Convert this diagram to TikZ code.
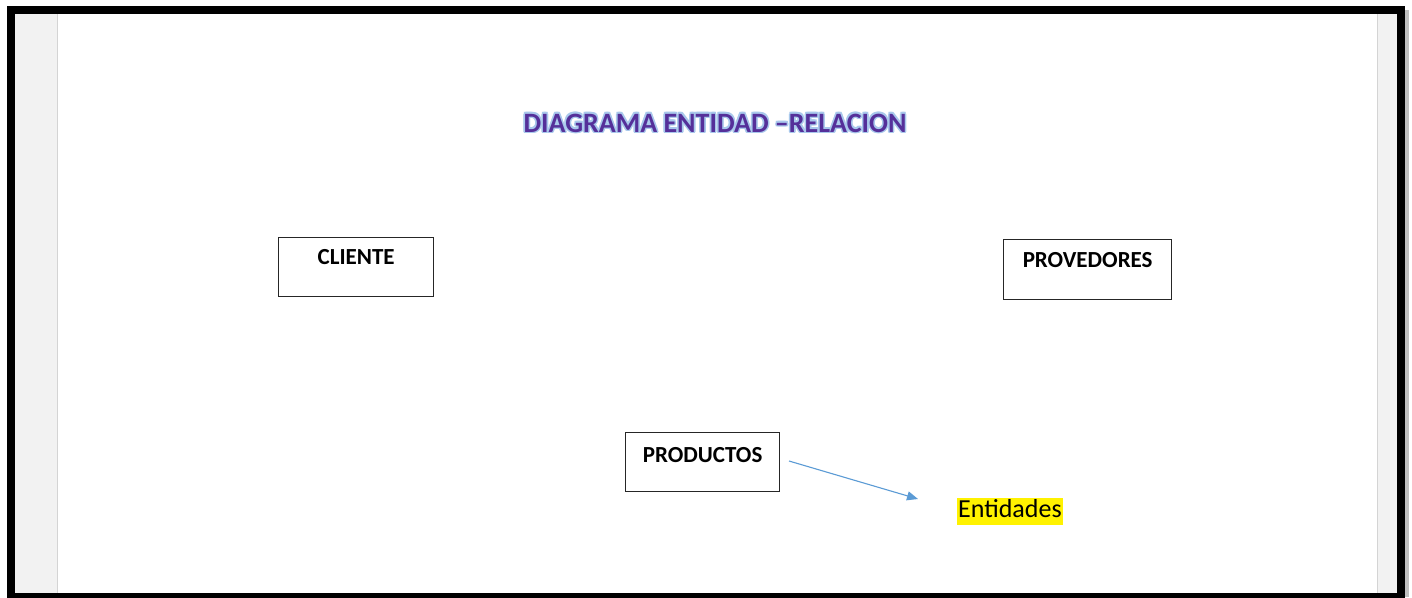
\documentclass[tikz,border=0pt]{standalone}
\usepackage{fontspec}
\setmainfont{Carlito}
\usetikzlibrary{arrows.meta}
\definecolor{titlecol}{HTML}{55309A}
\definecolor{glowcol}{HTML}{A9C8EC}
\definecolor{arrowcol}{HTML}{5B9BD5}
\definecolor{panelgray}{HTML}{F2F2F2}
\definecolor{panelline}{HTML}{D4D4D4}
\tikzset{
  entity/.style={draw=black!85, line width=1.3pt, inner xsep=0pt, inner ysep=0pt,
    anchor=north west, align=center, font=\fontsize{23}{26}\selectfont\bfseries},
  titletext/.style={font=\fontsize{28}{32}\selectfont\bfseries, inner sep=0pt, anchor=base},
  conn/.style={draw=arrowcol, line width=1.1pt, -{Triangle[length=11pt,width=9pt]}},
}
\begin{document}
\begin{tikzpicture}[x=1pt,y=-1pt]
\useasboundingbox (0,0) rectangle (1412,597);
% page background and frame
\fill[white] (0,0) rectangle (1412,597);
\fill[panelgray] (15,14) rectangle (57,594);
\fill[panelgray] (1378,14) rectangle (1397,594);
\draw[panelline, line width=1.5pt] (57.5,14) -- (57.5,594);
\draw[panelline, line width=1.5pt] (1377.5,14) -- (1377.5,594);
\fill[black!25] (1405,10) rectangle (1409,597);
\draw[black, line width=8pt] (11,10) rectangle (1401,597);
% title with glow
\foreach \dx/\dy in {-1.6/0,1.6/0,0/-1.6,0/1.6,-1.1/-1.1,1.1/1.1,-1.1/1.1,1.1/-1.1}{
  \node[titletext, text=glowcol] at (715+\dx,132+\dy) {DIAGRAMA ENTIDAD --RELACION};
}
\node[titletext, text=titlecol] (title) at (715,132) {DIAGRAMA ENTIDAD --RELACION};
% entities
\node[entity, minimum width=155pt, text height=27pt, text depth=32pt] (cliente) at (278,237) {CLIENTE};
\node[entity, minimum width=168pt, text height=28pt, text depth=32pt] (provedores) at (1003,239) {PROVEDORES};
\node[entity, minimum width=154pt, text height=30pt, text depth=29pt] (productos) at (625,432) {PRODUCTOS};
% label
\node[fill=yellow, inner xsep=1pt, inner ysep=0pt, text height=19pt, text depth=8pt,
  font=\fontsize{26}{30}\selectfont, anchor=base west] (entidades) at (957,517) {Entidades};
\coordinate (a1) at (789,461);
\coordinate (a2) at (918,499);
\draw[conn] (a1) -- (a2);
\end{tikzpicture}
\end{document}
